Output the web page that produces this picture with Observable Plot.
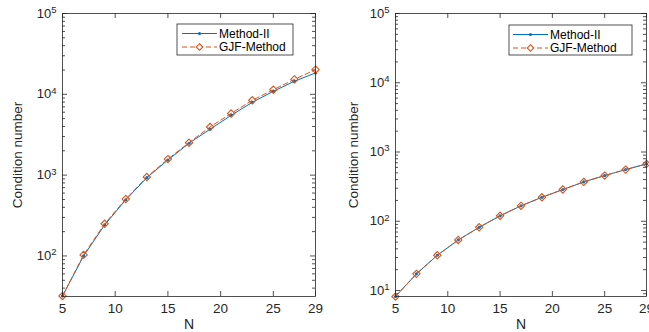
<!DOCTYPE html>
<html><head><meta charset="utf-8">
<script src="https://cdn.jsdelivr.net/npm/d3@7"></script>
<script src="https://cdn.jsdelivr.net/npm/@observablehq/plot@0.6"></script>
<style>
body{margin:0;background:#fff;}
#wrap{display:flex;width:649px;height:332px;overflow:hidden;}
#wrap svg{flex:none;}
</style></head><body><div id="wrap"></div>
<script>
// Data
const N = [5, 7, 9, 11, 13, 15, 17, 19, 21, 23, 25, 27, 29];
const leftMethodII = [32, 100, 242, 495, 930, 1540, 2480, 3700, 5500, 7950, 10900, 14500, 18400];
const leftGJF      = [32, 103, 250, 505, 950, 1580, 2520, 3950, 5800, 8430, 11400, 15300, 20200];
const rightMethodII = [8.2, 17.4, 32.3, 53.7, 81.8, 120, 167, 222, 287, 370, 457, 557, 673];
const rightGJF      = [8.2, 17.4, 32.3, 53.7, 81.8, 120, 167, 222, 287, 370, 457, 557, 673];
const xTicks = [5, 10, 15, 20, 25, 29];
const leftYTicks = [1e2, 1e3, 1e4, 1e5];
const rightYTicks = [1e1, 1e2, 1e3, 1e4, 1e5];
const seriesNames = ["Method-II", "GJF-Method"];
const xLabel = "N";
const yLabel = "Condition number";

const BLUE = "#0072BD", ORANGE = "#D95319", AX = "#262626";
const FONT = "'Liberation Sans', Arial, Helvetica, sans-serif";

function panel(o) {
  const data = N.map((n, i) => ({n, m2: o.methodII[i], gjf: o.gjf[i]}));
  const minor = [];
  for (let e = 0; e < 6; e++) for (let k = 2; k <= 9; k++) {
    const v = k * 10 ** e;
    if (v > o.yDomain[0] && v < o.yDomain[1]) minor.push(v);
  }
  const height = 332, top = 13, bottom = 36;
  const fh = height - top - bottom, fw = o.width - o.marginLeft - o.marginRight;
  const tk = {stroke: AX, strokeOpacity: 1, strokeWidth: 0.8};
  const chart = Plot.plot({
    width: o.width, height, marginLeft: o.marginLeft, marginRight: o.marginRight,
    marginTop: top, marginBottom: bottom,
    style: {fontFamily: FONT, fontSize: "13px", color: AX, background: "transparent", overflow: "hidden"},
    x: {domain: [5, 29]},
    y: {type: "log", domain: o.yDomain},
    marks: [
      Plot.axisX({ticks: xTicks, tickSize: 0, tickPadding: 7, label: null, fontSize: 13.5, tickFormat: d => String(d)}),
      Plot.axisY({ticks: o.yTicks, tickSize: 0, tickPadding: 6, label: null, fontSize: 13,
        tickFormat: d => "10^" + Math.round(Math.log10(d))}),
      Plot.gridX({ticks: xTicks, ...tk, insetTop: fh - 5}),
      Plot.gridX({ticks: xTicks, ...tk, insetBottom: fh - 5}),
      Plot.gridY({ticks: o.yTicks, ...tk, insetRight: fw - 5}),
      Plot.gridY({ticks: o.yTicks, ...tk, insetLeft: fw - 5}),
      Plot.gridY({ticks: minor, ...tk, insetRight: fw - 3}),
      Plot.gridY({ticks: minor, ...tk, insetLeft: fw - 3}),
      Plot.line(data, {x: "n", y: "m2", stroke: BLUE, strokeWidth: 1}),
      Plot.dot(data, {x: "n", y: "m2", fill: BLUE, r: 1.6}),
      Plot.line(data, {x: "n", y: "gjf", stroke: ORANGE, strokeWidth: 1, strokeDasharray: "5,3"}),
      Plot.dot(data, {x: "n", y: "gjf", stroke: ORANGE, fill: "none", symbol: d3.symbolDiamond2, r: 3.3, strokeWidth: 1.1}),
      Plot.frame({stroke: AX, strokeWidth: 0.8}),
      Plot.text([xLabel], {frameAnchor: "bottom", dy: 28, fontSize: 14, fill: AX, lineAnchor: "middle", textAnchor: "middle"}),
      Plot.text([yLabel], {frameAnchor: "left", rotate: -90, dx: o.labelDx, fontSize: 13.5, fill: AX, lineAnchor: "middle", textAnchor: "middle"})
    ]
  });
  // superscript exponents
  d3.select(chart).selectAll('g[aria-label="y-axis tick label"] text').each(function() {
    const t = d3.select(this);
    const s = t.text();
    if (s.includes("^")) {
      const [b, e] = s.split("^");
      t.text(b);
      t.append("tspan").attr("dy", "-0.5em").attr("font-size", "9.5px").text(e);
    }
  });
  // legend
  const L = o.legend;
  const g = d3.select(chart).append("g").attr("font-family", FONT).attr("font-size", 12).attr("text-anchor", "start");
  g.append("rect").attr("x", L.x).attr("y", L.y).attr("width", L.w).attr("height", L.h)
    .attr("fill", "white").attr("stroke", AX).attr("stroke-width", 0.8);
  const rows = [L.y + 9.5, L.y + 23];
  const cx = (L.lx0 + L.lx1) / 2;
  g.append("line").attr("x1", L.lx0).attr("x2", L.lx1).attr("y1", rows[0]).attr("y2", rows[0]).attr("stroke", BLUE).attr("stroke-width", 1);
  g.append("circle").attr("cx", cx).attr("cy", rows[0]).attr("r", 1.6).attr("fill", BLUE);
  g.append("line").attr("x1", L.lx0).attr("x2", L.lx1).attr("y1", rows[1]).attr("y2", rows[1]).attr("stroke", ORANGE).attr("stroke-width", 1).attr("stroke-dasharray", "5,3");
  g.append("path").attr("d", `M${cx},${rows[1]-3.3}L${cx+3.3},${rows[1]}L${cx},${rows[1]+3.3}L${cx-3.3},${rows[1]}Z`)
    .attr("fill", "white").attr("stroke", ORANGE).attr("stroke-width", 1.1);
  seriesNames.forEach((s, i) => g.append("text").attr("x", L.lx1 + 2).attr("y", rows[i]).attr("dy", "0.35em")
    .attr("text-anchor", "start").attr("fill", "#000").text(s));
  return chart;
}

const wrap = document.getElementById("wrap");
wrap.appendChild(panel({
  width: 330, marginLeft: 62, marginRight: 15, yDomain: [31.5, 1e5], yTicks: leftYTicks,
  methodII: leftMethodII, gjf: leftGJF, labelDx: -45,
  legend: {x: 177, y: 24, w: 116, h: 31, lx0: 182, lx1: 217}
}));
wrap.appendChild(panel({
  width: 319, marginLeft: 65, marginRight: 3, yDomain: [8.2, 1e5], yTicks: rightYTicks,
  methodII: rightMethodII, gjf: rightGJF, labelDx: -42,
  legend: {x: 179, y: 25, w: 123, h: 30, lx0: 183, lx1: 218}
}));
</script></body></html>
